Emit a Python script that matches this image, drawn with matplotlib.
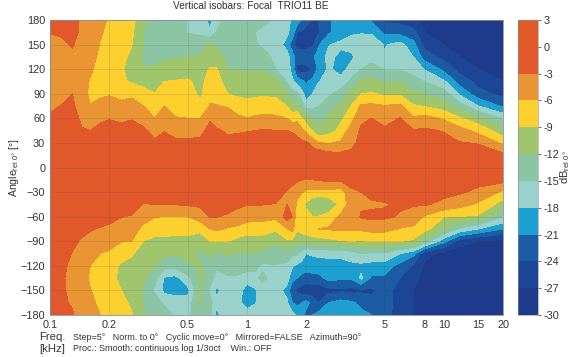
import numpy as np
import matplotlib
matplotlib.use("Agg")
import matplotlib.pyplot as plt

plt.rcParams['font.family'] = ['Liberation Sans', 'DejaVu Sans']
plt.rcParams['mathtext.default'] = 'regular'

# Values: one line per frequency, angle goes 180 -> -180
freq_khz = [0.10, 0.115, 0.13, 0.145, 0.16, 0.18, 0.2, 0.23, 0.26, 0.3, 0.34, 0.38, 0.43,
            0.5, 0.58, 0.65, 0.7, 0.8, 0.9, 1, 1.1, 1.2, 1.4, 1.6, 1.7, 1.8, 1.9, 2, 2.15,
            2.3, 2.6, 3, 3.4, 3.8, 4.3, 5, 6, 7, 8, 10, 12, 15, 20]
angle_deg = [180, 165, 150, 135, 120, 105, 90, 75, 60, 45, 30, 15, 0,
             -15, -30, -45, -60, -75, -90, -105, -120, -135, -150, -165, -180]
db_by_freq = [
    [-2, -2.9, -4, -4.5, -4.5, -4.5, -4, -3.4, -2.7, -2, -1.5, -1, 0, -1, -1, -1, -1, -1, -1.5, -1.5, -1.5, -1.5, -1.5, -2, -2],
    [-2, -2.7, -3.4, -4, -4.5, -4.2, -3.7, -2.9, -2.2, -1.5, -1, -.5, 0, -1, -1, -1, -1, -1, -1.5, -2, -2.5, -2.7, -2.7, -2.7, -2.5],
    [-2, -2.3, -2.8, -3.5, -4, -3.8, -3, -2.5, -2, -1.5, -1, -.5, 0, -1, -1, -1, -1.3, -2, -2.6, -3.1, -3.6, -3.8, -3.6, -3.2, -2.8],
    [-3.5, -3.5, -4, -4.5, -5, -5, -4.8, -4.5, -3.5, -2.8, -2, -1, 0, -1, -1, -1, -1.5, -2.5, -3.2, -3.8, -4.5, -5, -5, -4.6, -4.2],
    [-4.5, -4.5, -4.8, -5.2, -5.6, -6.2, -6.6, -5.9, -4, -3, -2, -1, 0, -1, -1, -1, -1.8, -2.8, -3.7, -5, -6, -6.3, -5.9, -5.5, -5],
    [-5.5, -5.8, -6.1, -6.5, -7, -7.3, -6.4, -5.3, -3.4, -2.4, -1.5, -1, 0, -1, -1, -1, -2, -3.2, -4.5, -6, -7, -7.3, -7, -6.5, -6],
    [-6.2, -6.5, -6.8, -7.2, -7.5, -7.5, -6.2, -5, -3.1, -2.2, -1.5, -1, 0, -1, -1, -1, -2.2, -3.5, -5.2, -6.3, -7.5, -8, -8, -7.5, -7],
    [-7.5, -7.7, -8, -8.4, -8.7, -8.5, -6.8, -5.3, -3.3, -2.5, -1.5, -1, 0, -1, -1, -1, -2.9, -4.5, -5.9, -7.6, -9.5, -9.8, -9, -8.4, -8],
    [-8, -8.5, -8.9, -9.5, -10, -9.4, -6.4, -5.2, -3.1, -2.3, -1.5, -1, 0, -1, -1, -1.5, -3.2, -5, -6, -8.8, -9.6, -10, -10, -9.4, -8.8],
    [-11.7, -12.1, -12.3, -12.4, -11.9, -10.2, -7.8, -6, -4, -2.6, -1.5, -1, 0, -1, -1.5, -3.2, -5, -6.7, -9.1, -10, -11, -11.8, -12.3, -12.3, -11.8],
    [-12.5, -12.6, -12.7, -12.7, -11.7, -10.5, -8.9, -7.5, -6, -4, -2.5, -1.5, 0, -1, -1.8, -2.9, -5.9, -7.8, -9.7, -10.8, -11.8, -14, -15.5, -13.5, -13],
    [-12.6, -12.8, -13, -12.3, -11.2, -9, -7.3, -6, -4.5, -3.1, -2, -1, 0, -1, -2, -2.9, -6, -7.8, -9.8, -11.2, -14, -18.3, -18.8, -15.5, -13.5],
    [-13, -13.2, -13.5, -12.2, -11, -8.8, -7.5, -6.6, -5.9, -3.6, -2.6, -1.5, 0, -1, -2, -2.9, -6, -7.9, -9.9, -11.8, -14, -19, -19.5, -16, -15.5],
    [-15.2, -15.1, -14, -12, -10.5, -8.6, -7.7, -6.8, -6, -3.9, -2.5, -1.5, 0, -1, -2, -2.7, -6, -8, -9.8, -11, -12.5, -16, -19, -16.5, -15.8],
    [-16, -15.5, -13.5, -11.8, -10.5, -10, -9.6, -8.2, -6, -3.5, -2.6, -1.5, 0, -1, -2, -2.5, -4.5, -8.2, -11, -12.6, -11.8, -11.5, -11.5, -11.8, -12.5],
    [-19, -17.8, -11.5, -10.5, -8.7, -7.5, -6.7, -5.8, -3.2, -2.4, -1.8, -1, 0, -1, -1.5, -2.2, -2.8, -6, -8.9, -11.5, -12.6, -14, -15.5, -14, -13.5],
    [-15.5, -15, -12.5, -10.5, -8.7, -7.6, -6.8, -5.9, -4.3, -2.7, -2, -1, 0, -1, -1.5, -2.2, -2.9, -5.5, -9, -12.8, -14.5, -16, -18.7, -17.3, -19],
    [-14.5, -14, -13.5, -13, -12, -10.8, -9, -6.2, -4.5, -3.3, -2.4, -1.2, 0, -1, -1.5, -2.2, -3.3, -6.3, -8.9, -11.5, -13.5, -15.5, -16, -15.5, -15.5],
    [-14.2, -14, -13.8, -13.4, -12.1, -10.9, -9.6, -7.3, -5.5, -3.2, -2.3, -1.1, 0, -1, -1.5, -2.5, -4, -6.8, -10, -12.5, -13.5, -15.5, -16.5, -17, -16.5],
    [-14, -14, -14, -13.8, -12.2, -11, -9.6, -8.2, -5.9, -3.1, -2.2, -1, 0, -1, -1.5, -2.9, -4.6, -7.8, -10.2, -11.9, -13.8, -16.5, -19.5, -20, -16],
    [-14, -15, -14.7, -13.6, -12.2, -10.7, -9.6, -7.7, -5.6, -3, -2.1, -1, 0, -1, -1.5, -2.9, -4.7, -7.8, -10.2, -12.3, -14.5, -15.5, -18.5, -18.3, -16],
    [-14, -16, -15.5, -13.5, -12.2, -10.5, -9.5, -7.2, -5.4, -2.8, -2, -1, 0, -1, -1.5, -2.9, -4.8, -7.8, -10.2, -12.7, -15.5, -14.5, -16, -16.2, -16.5],
    [-15.5, -17, -16.5, -16, -15, -11, -9.6, -7.7, -5.4, -2.9, -2, -1, 0, -1, -1.8, -3.1, -5.3, -8.5, -11.3, -13.5, -15.2, -16, -16.8, -17.5, -16.5],
    [-17, -17.5, -19, -17, -16.5, -15.3, -11.5, -9, -6, -3, -2, -1, 0, -2, -3.2, -3, -1.8, -6.1, -9.6, -13.5, -15.5, -16.8, -19, -17.5, -16.5],
    [-18.5, -19, -23, -19.5, -19, -17.5, -14, -11, -7.5, -3.2, -2, -1, 0, -2.3, -3.8, -4, -3, -5, -9.8, -14.5, -17.7, -20, -23.5, -21, -17],
    [-19, -24, -25, -22.5, -25, -19, -14.5, -10.5, -7, -3.6, -2.3, -1, 0, -2.5, -5, -6.5, -8, -8.5, -11.5, -14.5, -18.5, -21, -24.5, -22, -18.5],
    [-21, -24.5, -25.5, -22, -25.5, -20.5, -17, -13.5, -9, -5.2, -2.4, -1, 0, -2.9, -5.8, -8, -8, -8, -10.8, -16.5, -19, -22, -25.5, -21, -20],
    [-23, -25, -25.5, -22, -25, -21.5, -19.5, -16.5, -10.5, -6.8, -2.5, -1, 0, -3.3, -6.5, -9.5, -8, -7.8, -10.3, -18, -19.5, -22.5, -26, -20, -22],
    [-24, -25, -24.5, -21.5, -24, -20, -18, -15.8, -12, -9.2, -4, -1, 0, -3, -7, -11.5, -9, -7, -10.3, -17.6, -19.5, -22, -26, -22, -21],
    [-24, -24.5, -21.5, -20, -20.5, -18.3, -16.6, -15.2, -13, -11.5, -5.7, -.7, 0, -2.8, -7, -12.6, -9, -6, -10.3, -17.3, -19.5, -22, -26, -24, -20],
    [-21.5, -21.5, -18.2, -17, -17.5, -16.3, -15.5, -13.4, -11.5, -10.3, -6.3, -1.8, 0, -2.3, -6.8, -12, -7.5, -5.7, -10, -17, -19.6, -20, -25, -21, -20],
    [-19.5, -19.5, -17.3, -19, -19.3, -16.8, -13.8, -11.5, -9.6, -8, -5.5, -2.2, 0, -2.5, -7.5, -8, -5.5, -5.5, -9.2, -16.8, -19.8, -20.5, -24.5, -20, -19.5],
    [-20, -18.5, -16.5, -18.8, -16.5, -14.5, -10.8, -8.9, -7, -4.5, -3.7, -2.3, 0, -2.2, -3.4, -4.2, -5.1, -5.6, -9, -16.5, -18.7, -20.5, -25, -20.5, -20],
    [-20, -18.3, -16, -15.5, -15, -11.5, -9.1, -5.5, -3.5, -2.6, -2.2, -1.5, 0, -2, -3, -3.4, -2.7, -5.5, -9.2, -15, -18.8, -17.5, -24.5, -22, -20],
    [-21.5, -18.3, -16.5, -16, -14, -11.3, -8.7, -5.4, -3, -2, -1.5, -1, 0, -1.5, -2, -3.5, -2.3, -5, -8.9, -15.5, -19.2, -21.5, -24.5, -23, -21],
    [-24.5, -21.8, -18.2, -17.8, -15.2, -12.5, -9.5, -5.8, -4, -2.5, -1.5, -1, 0, -1.5, -2, -3.2, -2.5, -5, -9, -15.3, -19.5, -21.5, -23, -22.5, -22.5],
    [-25, -22, -17, -16.5, -15.3, -12, -9.5, -5.4, -2.9, -2, -1.5, -1, 0, -1.5, -2, -2.6, -3.3, -6.2, -8.9, -18, -22, -24, -25, -25.5, -26],
    [-26, -23, -20, -18, -16, -14, -11.3, -8.7, -5.5, -2.8, -1.8, -1, 0, -1.5, -2, -2.7, -4.5, -6.5, -9.5, -20, -24.5, -26, -27, -27, -27],
    [-28, -27, -25, -22.5, -18.2, -15.2, -12.2, -9.2, -5, -2.5, -1.7, -1, 0, -1.5, -2, -2.7, -6.3, -8, -13, -26, -27.5, -28, -28.5, -28.5, -28.5],
    [-29, -28, -27, -25, -21.8, -17.5, -13.5, -10.5, -6.4, -3.2, -2, -1, 0, -1.5, -2.2, -3.7, -8.9, -11.8, -20, -28, -29, -29, -29, -29.5, -29.5],
    [-29.5, -29, -28, -27, -25, -22.3, -18.5, -13.5, -8.6, -4.8, -2.8, -1.5, 0, -1.5, -2.6, -4.9, -9, -15.5, -25.5, -29, -29.5, -29.5, -29.5, -29.5, -29.5],
    [-30, -30, -29, -28, -27, -25, -23, -18, -11, -7, -3.2, -1.5, 0, -2, -3.7, -6.5, -9.4, -18, -27, -29, -29.5, -29.5, -29.5, -29.5, -29.5],
    [-30, -30, -30, -30, -29, -27, -25, -21.5, -15.5, -10.8, -6.7, -2.2, 0, -1.8, -6.7, -10.5, -15, -21, -28, -29.9, -29.9, -29.9, -29.9, -29.9, -29.9],
]

db_levels = [-30, -27, -24, -21, -18, -15, -12, -9, -6, -3, 0, 3]
band_colours = ['#1E3A8C', '#1C4595', '#1B5CA5', '#1D9FD2', '#99D1CB', '#8BC5A3',
                '#9FC66C', '#FCD12F', '#EA9533', '#E1582B', '#E05A28']
freq_ticks = [0.1, 0.2, 0.5, 1, 2, 5, 8, 10, 15, 20]
angle_ticks = list(range(-180, 181, 30))
db_ticks = [3, 0, -3, -6, -9, -12, -15, -18, -21, -24, -27, -30]

db = np.array(db_by_freq).T

W, H = 580, 357
fig = plt.figure(figsize=(W / 100, H / 100), dpi=100)
ax = fig.add_axes([50 / W, 1 - 315 / H, 453 / W, 295 / H])
cf = ax.contourf(freq_khz, angle_deg, db, levels=db_levels, colors=band_colours)
ax.set_xscale('log')
ax.set_xlim(0.1, 20)
ax.set_ylim(-180, 180)
ax.set_xticks(freq_ticks)
ax.set_xticklabels([str(f) for f in freq_ticks])
ax.minorticks_off()
ax.set_yticks(angle_ticks)
ax.grid(True, color='#444444', lw=0.5, alpha=0.2)
ax.tick_params(length=0, labelsize=7.8, colors='#333333', pad=3.5)
for s in ax.spines.values():
    s.set_color('#8a8f96')
    s.set_linewidth(0.6)
ax.set_ylabel(r'Angle$_{rel\ 0°}$ [°]', fontsize=7.6, color='#333333', labelpad=0)

cax = fig.add_axes([518 / W, 1 - 315 / H, 20 / W, 295 / H])
cb = fig.colorbar(cf, cax=cax)
cb.set_ticks(db_ticks)
cb.set_ticklabels([str(t) for t in db_ticks])
cb.ax.tick_params(length=2, width=0.5, labelsize=7.8, colors='#333333', pad=2)
cb.outline.set_linewidth(0.4)
cb.outline.set_edgecolor('#8a8f96')
cb.set_label(r'dB$_{rel\ 0°}$', fontsize=8, color='#333333', labelpad=-1)

fig.text(251 / W, 1 - 6 / H, 'Vertical isobars: Focal  TRIO11 BE', fontsize=7.3,
         color='#333333', ha='center', va='center')
fig.text(39 / W, 1 - 337 / H, 'Freq.', fontsize=8.2, color='#333333', va='center')
fig.text(39 / W, 1 - 348.5 / H, '[kHz]', fontsize=8.2, color='#333333', va='center')
fig.text(73 / W, 1 - 338 / H, 'Step=5°   Norm. to 0°   Cyclic move=0°   Mirrored=FALSE   Azimuth=90°',
         fontsize=6.45, color='#333333', va='center')
fig.text(73 / W, 1 - 348.5 / H, 'Proc.: Smooth: continuous log 1/3oct    Win.: OFF',
         fontsize=6.45, color='#333333', va='center')

fig.savefig('out.png', dpi=100)
